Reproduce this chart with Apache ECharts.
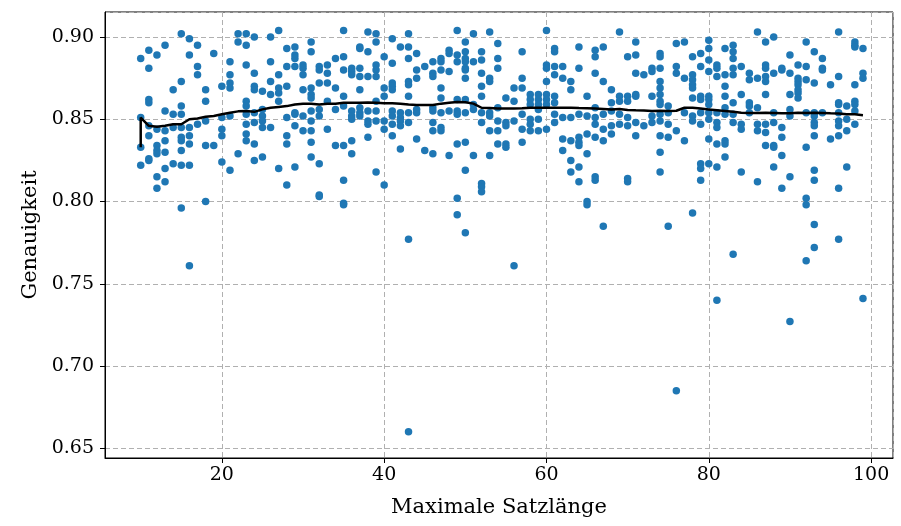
<!DOCTYPE html>
<html>
<head>
<meta charset="utf-8">
<script src="https://cdn.jsdelivr.net/npm/echarts@6/dist/echarts.min.js"></script>
<style>
html,body{margin:0;padding:0;background:#fff;}
#chart{width:901px;height:526px;}
</style>
</head>
<body>
<div id="chart"></div>
<script>
// Sentence lengths (x) and accuracies read per length
const sentenceLengths = [];
for (let L = 10; L <= 99; L++) sentenceLengths.push(L);

const accuracyByLength = [
  [0.887, 0.851, 0.833, 0.822],                                   // 10
  [0.892, 0.881, 0.862, 0.860, 0.846, 0.840, 0.826, 0.825],       // 11
  [0.889, 0.844, 0.834, 0.831, 0.829, 0.815, 0.808],              // 12
  [0.895, 0.855, 0.843, 0.837, 0.830, 0.820, 0.812],              // 13
  [0.868, 0.853, 0.845, 0.823],                                   // 14
  [0.902, 0.873, 0.858, 0.853, 0.845, 0.839, 0.837, 0.831, 0.822, 0.796], // 15
  [0.899, 0.889, 0.845, 0.840, 0.835, 0.822, 0.761],              // 16
  [0.895, 0.882, 0.877, 0.847],                                   // 17
  [0.868, 0.861, 0.849, 0.834, 0.800],                            // 18
  [0.890, 0.834],                                                 // 19
  [0.870, 0.851, 0.844, 0.840, 0.824],                            // 20
  [0.885, 0.877, 0.872, 0.869, 0.852, 0.819],                     // 21
  [0.902, 0.897, 0.829],                                          // 22
  [0.902, 0.895, 0.883, 0.861, 0.858, 0.853, 0.847, 0.841, 0.837], // 23
  [0.900, 0.878, 0.870, 0.868, 0.854, 0.848, 0.835, 0.825],       // 24
  [0.867, 0.856, 0.852, 0.849, 0.845, 0.827],                     // 25
  [0.900, 0.885, 0.873, 0.865, 0.845],                            // 26
  [0.904, 0.877, 0.869, 0.866, 0.861, 0.820],                     // 27
  [0.893, 0.882, 0.870, 0.851, 0.840, 0.835, 0.810],              // 28
  [0.894, 0.889, 0.887, 0.882, 0.854, 0.853, 0.846, 0.821],       // 29
  [0.883, 0.881, 0.877, 0.868, 0.852, 0.843],                     // 30
  [0.897, 0.891, 0.869, 0.865, 0.863, 0.855, 0.849, 0.843, 0.836, 0.827], // 31
  [0.882, 0.880, 0.872, 0.856, 0.852, 0.823, 0.804, 0.803],       // 32
  [0.883, 0.878, 0.872, 0.861, 0.844],                            // 33
  [0.887, 0.869, 0.856, 0.834],                                   // 34
  [0.904, 0.888, 0.880, 0.864, 0.858, 0.834, 0.813, 0.799, 0.798], // 35
  [0.881, 0.879, 0.877, 0.855, 0.852, 0.850, 0.837, 0.829],       // 36
  [0.894, 0.893, 0.881, 0.876, 0.868, 0.857, 0.854, 0.852],       // 37
  [0.903, 0.891, 0.876, 0.855, 0.849, 0.847, 0.839],              // 38
  [0.902, 0.897, 0.883, 0.880, 0.876, 0.861, 0.855, 0.849, 0.818], // 39
  [0.888, 0.869, 0.864, 0.849, 0.844, 0.810],                     // 40
  [0.899, 0.884, 0.872, 0.870, 0.868, 0.855, 0.852, 0.847, 0.840], // 41
  [0.894, 0.854, 0.851, 0.849, 0.846, 0.832],                     // 42
  [0.902, 0.894, 0.887, 0.873, 0.871, 0.864, 0.854, 0.848, 0.777, 0.660], // 43
  [0.890, 0.880, 0.875, 0.856, 0.854, 0.838],                     // 44
  [0.882, 0.831],                                                 // 45
  [0.885, 0.878, 0.876, 0.857, 0.855, 0.848, 0.843, 0.829],       // 46
  [0.887, 0.885, 0.880, 0.869, 0.863, 0.854, 0.845, 0.843],       // 47
  [0.892, 0.890, 0.879, 0.855, 0.828],                            // 48
  [0.904, 0.889, 0.885, 0.862, 0.855, 0.853, 0.835, 0.802, 0.792], // 49
  [0.897, 0.891, 0.887, 0.885, 0.881, 0.880, 0.875, 0.862, 0.854, 0.836, 0.819, 0.781], // 50
  [0.902, 0.885, 0.859, 0.856, 0.828],                            // 51
  [0.891, 0.886, 0.878, 0.870, 0.864, 0.854, 0.848, 0.811, 0.809, 0.806], // 52
  [0.903, 0.875, 0.873, 0.854, 0.852, 0.843, 0.828],              // 53
  [0.896, 0.887, 0.881, 0.857, 0.849, 0.843, 0.835],              // 54
  [0.863, 0.848, 0.846, 0.835, 0.833],                            // 55
  [0.869, 0.861, 0.849, 0.761],                                   // 56
  [0.891, 0.875, 0.869, 0.853, 0.844, 0.836],                     // 57
  [0.865, 0.862, 0.859, 0.850, 0.847, 0.843],                     // 58
  [0.865, 0.862, 0.859, 0.856, 0.850, 0.843],                     // 59
  [0.904, 0.883, 0.881, 0.873, 0.865, 0.862, 0.859, 0.844],       // 60
  [0.893, 0.891, 0.882, 0.877, 0.864, 0.860, 0.853, 0.848],       // 61
  [0.882, 0.875, 0.851, 0.838, 0.831],                            // 62
  [0.873, 0.868, 0.851, 0.837, 0.825, 0.818],                     // 63
  [0.894, 0.881, 0.853, 0.839, 0.836, 0.834, 0.821, 0.812],       // 64
  [0.864, 0.852, 0.841, 0.829, 0.800, 0.798],                     // 65
  [0.892, 0.888, 0.878, 0.857, 0.851, 0.847, 0.839, 0.815, 0.813], // 66
  [0.894, 0.873, 0.853, 0.844, 0.837, 0.785],                     // 67
  [0.868, 0.860, 0.855, 0.846, 0.841],                            // 68
  [0.903, 0.864, 0.861, 0.853, 0.847],                            // 69
  [0.888, 0.864, 0.861, 0.851, 0.846, 0.814, 0.812],              // 70
  [0.897, 0.889, 0.878, 0.865, 0.864, 0.848, 0.840],              // 71
  [0.877, 0.846],                                                 // 72
  [0.881, 0.879, 0.864, 0.852, 0.848],                            // 73
  [0.890, 0.888, 0.881, 0.873, 0.869, 0.865, 0.861, 0.859, 0.853, 0.849, 0.840, 0.830, 0.818], // 74
  [0.858, 0.854, 0.847, 0.839, 0.785],                            // 75
  [0.896, 0.882, 0.878, 0.843, 0.685],                            // 76
  [0.897, 0.875, 0.854, 0.837],                                   // 77
  [0.888, 0.877, 0.874, 0.871, 0.869, 0.863, 0.852, 0.849, 0.793], // 78
  [0.890, 0.882, 0.864, 0.862, 0.854, 0.847, 0.823, 0.820, 0.813], // 79
  [0.898, 0.893, 0.886, 0.879, 0.864, 0.862, 0.859, 0.854, 0.850, 0.838, 0.823], // 80
  [0.883, 0.881, 0.876, 0.854, 0.848, 0.845, 0.835, 0.821, 0.740], // 81
  [0.893, 0.877, 0.870, 0.864, 0.857, 0.853, 0.837, 0.835, 0.827], // 82
  [0.895, 0.891, 0.887, 0.881, 0.877, 0.860, 0.853, 0.848, 0.768], // 83
  [0.882, 0.865, 0.847, 0.844, 0.818],                            // 84
  [0.878, 0.874, 0.860, 0.858, 0.854],                            // 85
  [0.903, 0.875, 0.857, 0.847, 0.843, 0.812],                     // 86
  [0.897, 0.883, 0.881, 0.876, 0.873, 0.865, 0.847, 0.842, 0.834], // 87
  [0.900, 0.878, 0.854, 0.848, 0.834, 0.833, 0.821],              // 88
  [0.881, 0.880, 0.845, 0.839, 0.828, 0.808],                     // 89
  [0.889, 0.878, 0.865, 0.856, 0.852, 0.815, 0.727],              // 90
  [0.883, 0.875, 0.873, 0.871, 0.868, 0.866, 0.863],              // 91
  [0.897, 0.882, 0.874, 0.854, 0.833, 0.802, 0.798, 0.764],       // 92
  [0.891, 0.872, 0.854, 0.852, 0.848, 0.846, 0.840, 0.819, 0.813, 0.786, 0.772], // 93
  [0.887, 0.881, 0.880, 0.854],                                   // 94
  [0.871, 0.838],                                                 // 95
  [0.903, 0.876, 0.860, 0.859, 0.854, 0.849, 0.846, 0.840, 0.808, 0.777], // 96
  [0.858, 0.850, 0.843, 0.821],                                   // 97
  [0.897, 0.895, 0.894, 0.871, 0.861, 0.859, 0.855, 0.847],       // 98
  [0.893, 0.878, 0.875, 0.741]                                    // 99
];

// Running mean line
const meanLineX = [10, 10, 11, 12, 13, 14, 15, 16, 17, 18, 19, 20, 21, 22, 23, 24, 25, 26, 27, 28, 29,
  30, 31, 32, 33, 34, 35, 36, 37, 38, 39, 40, 41, 42, 43, 44, 45, 46, 47, 48, 49,
  50, 51, 52, 53, 54, 55, 56, 57, 58, 59, 60, 61, 62, 63, 64, 65, 66, 67, 68, 69,
  70, 71, 72, 73, 74, 75, 76, 77, 78, 79, 80, 81, 82, 83, 84, 85, 86, 87, 88, 89,
  90, 91, 92, 93, 94, 95, 96, 97, 98, 99];
const meanLineY = [0.833, 0.851, 0.846, 0.8455, 0.846, 0.847, 0.847, 0.850, 0.8505, 0.8515, 0.852,
  0.853, 0.854, 0.8548, 0.855, 0.8545, 0.856, 0.857, 0.8575, 0.858, 0.859,
  0.8595, 0.8595, 0.859, 0.8595, 0.8595, 0.860, 0.860, 0.860, 0.8602, 0.860,
  0.8597, 0.8597, 0.8595, 0.859, 0.8587, 0.8587, 0.8587, 0.8595, 0.860, 0.8605,
  0.8603, 0.8595, 0.857, 0.8568, 0.8566, 0.8566, 0.8565, 0.8567, 0.857, 0.857,
  0.857, 0.857, 0.857, 0.857, 0.8568, 0.8567, 0.8565, 0.8563, 0.856, 0.8563,
  0.8557, 0.8555, 0.8554, 0.855, 0.8552, 0.855, 0.8552, 0.857, 0.857, 0.8565,
  0.856, 0.8555, 0.855, 0.8545, 0.854, 0.8538, 0.8538, 0.854, 0.8538, 0.8536,
  0.8536, 0.854, 0.8538, 0.854, 0.8538, 0.8536, 0.8535, 0.853, 0.853, 0.8525];

const xAxisName = 'Maximale Satzlänge';
const yAxisName = 'Genauigkeit';

const scatterData = [];
sentenceLengths.forEach((L, i) => {
  accuracyByLength[i].forEach(v => scatterData.push([L, v]));
});
const lineData = meanLineX.map((x, i) => [x, meanLineY[i]]);

const FONT = 'DejaVu Serif';
const chart = echarts.init(document.getElementById('chart'), null, {renderer: 'canvas'});
chart.setOption({
  animation: false,
  backgroundColor: '#fff',
  grid: {left: 105, right: 8, top: 12, bottom: 68, show: true, borderColor: '#000', borderWidth: 1, backgroundColor: 'transparent'},
  xAxis: {
    type: 'value', min: 5.6, max: 102.7, splitNumber: 5,
    name: xAxisName, nameLocation: 'middle', nameGap: 39,
    nameTextStyle: {fontFamily: FONT, fontSize: 21, color: '#000'},
    axisLine: {show: true, onZero: false, lineStyle: {color: '#000', width: 1}},
    axisTick: {show: true, inside: false, length: 5, lineStyle: {color: '#000'}},
    axisLabel: {fontFamily: FONT, fontSize: 19, color: '#000', margin: 8, showMinLabel: false, showMaxLabel: false,
      formatter: v => (Math.abs(v % 20) < 1e-6 ? String(v) : '')},
    splitLine: {show: true, lineStyle: {color: '#b0b0b0', type: [5, 3], width: 1}}
  },
  yAxis: {
    type: 'value', min: 0.6441, max: 0.9152, splitNumber: 5,
    name: yAxisName, nameLocation: 'middle', nameGap: 64, nameRotate: 90,
    nameTextStyle: {fontFamily: FONT, fontSize: 21, color: '#000'},
    axisLine: {show: true, onZero: false, lineStyle: {color: '#000', width: 1}},
    axisTick: {show: true, inside: false, length: 5, lineStyle: {color: '#000'}},
    axisLabel: {fontFamily: FONT, fontSize: 19, color: '#000', margin: 11, showMinLabel: false, showMaxLabel: false,
      formatter: v => v.toFixed(2)},
    splitLine: {show: true, lineStyle: {color: '#b0b0b0', type: [5, 3], width: 1}}
  },
  series: [
    {
      type: 'scatter', data: scatterData, symbol: 'circle', symbolSize: 7.5,
      itemStyle: {color: '#1f77b4', opacity: 1}, z: 2
    },
    {
      type: 'line', data: lineData, showSymbol: false, symbol: 'none',
      lineStyle: {color: '#000', width: 2.5}, z: 3
    }
  ]
});
</script>
</body>
</html>
